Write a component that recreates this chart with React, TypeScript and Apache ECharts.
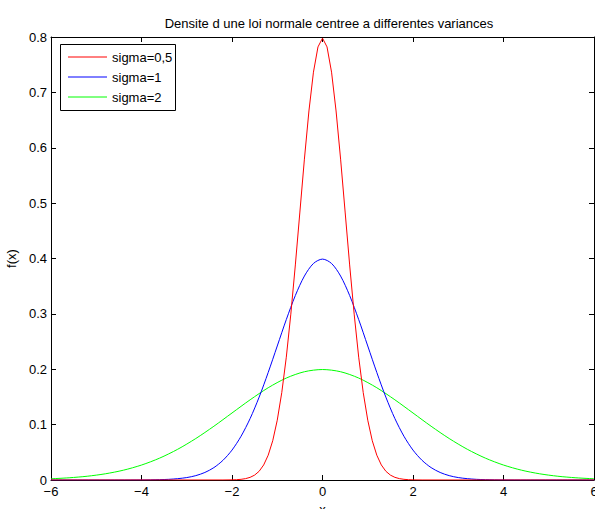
import React, { useEffect, useRef } from "react";
import * as echarts from "echarts";

const titleText = "Densite d une loi normale centree a differentes variances";
const seriesNames = ["sigma=0,5", "sigma=1", "sigma=2"];
const colors = ["#ff0000", "#0000ff", "#00ff00"];

// sigma = 0.5
const xRed = [-6, -2.2, -2.0, -1.9, -1.8, -1.7, -1.6, -1.5, -1.4, -1.3, -1.2, -1.1, -1.0, -0.9, -0.8, -0.7, -0.6, -0.5, -0.4, -0.3, -0.2, -0.1, 0, 0.1, 0.2, 0.3, 0.4, 0.5, 0.6, 0.7, 0.8, 0.9, 1.0, 1.1, 1.2, 1.3, 1.4, 1.5, 1.6, 1.7, 1.8, 1.9, 2.0, 2.2, 6];
const yRed = [0, 0.00005, 0.00027, 0.00058, 0.00122, 0.00246, 0.00477, 0.00886, 0.0158, 0.0272, 0.0448, 0.0709, 0.108, 0.1579, 0.2218, 0.2995, 0.3884, 0.4839, 0.5794, 0.6664, 0.7365, 0.7821, 0.7979, 0.7821, 0.7365, 0.6664, 0.5794, 0.4839, 0.3884, 0.2995, 0.2218, 0.1579, 0.108, 0.0709, 0.0448, 0.0272, 0.0158, 0.00886, 0.00477, 0.00246, 0.00122, 0.00058, 0.00027, 0.00005, 0];

// sigma = 1
const xBlue = [-6, -4.5, -4.0, -3.8, -3.6, -3.4, -3.2, -3.0, -2.8, -2.6, -2.4, -2.2, -2.0, -1.8, -1.6, -1.4, -1.2, -1.0, -0.8, -0.6, -0.4, -0.2, 0, 0.2, 0.4, 0.6, 0.8, 1.0, 1.2, 1.4, 1.6, 1.8, 2.0, 2.2, 2.4, 2.6, 2.8, 3.0, 3.2, 3.4, 3.6, 3.8, 4.0, 4.5, 6];
const yBlue = [0, 0.00002, 0.0001, 0.0003, 0.0006, 0.0012, 0.0024, 0.0044, 0.0079, 0.0136, 0.0224, 0.0355, 0.054, 0.079, 0.1109, 0.1497, 0.1942, 0.242, 0.2897, 0.3332, 0.3683, 0.391, 0.3989, 0.391, 0.3683, 0.3332, 0.2897, 0.242, 0.1942, 0.1497, 0.1109, 0.079, 0.054, 0.0355, 0.0224, 0.0136, 0.0079, 0.0044, 0.0024, 0.0012, 0.0006, 0.0003, 0.0001, 0.00002, 0];

// sigma = 2
const xGreen = [-6, -5.6, -5.2, -4.8, -4.4, -4.0, -3.6, -3.2, -2.8, -2.4, -2.0, -1.6, -1.2, -0.8, -0.4, 0, 0.4, 0.8, 1.2, 1.6, 2.0, 2.4, 2.8, 3.2, 3.6, 4.0, 4.4, 4.8, 5.2, 5.6, 6];
const yGreen = [0.0022, 0.004, 0.0068, 0.0112, 0.0177, 0.027, 0.0395, 0.0555, 0.0749, 0.0971, 0.121, 0.1448, 0.1666, 0.1841, 0.1955, 0.1995, 0.1955, 0.1841, 0.1666, 0.1448, 0.121, 0.0971, 0.0749, 0.0555, 0.0395, 0.027, 0.0177, 0.0112, 0.0068, 0.004, 0.0022];

const xTicks = { min: -6, max: 6, interval: 2 };
const yTicks = { min: 0, max: 0.8, interval: 0.1 };

const zip = (xs: number[], ys: number[]) => xs.map((x, i) => [x, ys[i]]);

const FONT = "'Liberation Sans', Arial, Helvetica, sans-serif";
const FS = 13;

export default function App() {
  const ref = useRef<HTMLDivElement>(null);
  useEffect(() => {
    document.body.style.margin = "0";
    const chart = echarts.init(ref.current!, null, { renderer: "svg" });
    const axisLine = { show: true, onZero: false, lineStyle: { color: "#000", width: 1 } };
    const tick = { show: true, inside: true, length: 5, lineStyle: { color: "#000" } };
    const fmtX = (v: number) => String(v).replace("-", "\u2212");
    const fmtY = (v: number) => (v === 0 ? "0" : v.toFixed(1));
    const data = [zip(xRed, yRed), zip(xBlue, yBlue), zip(xGreen, yGreen)];

    // legend drawn as graphic elements (box, sample lines, labels)
    const legendElems: any[] = [
      {
        type: "rect",
        shape: { x: 60.5, y: 44.5, width: 115, height: 66 },
        style: { fill: "#fff", stroke: "#000", lineWidth: 1 },
        z: 10,
      },
    ];
    seriesNames.forEach((n, i) => {
      const y = 57 + i * 20;
      legendElems.push({
        type: "line",
        shape: { x1: 68, y1: y, x2: 107, y2: y },
        style: { stroke: colors[i], lineWidth: 1 },
        z: 11,
      });
      legendElems.push({
        type: "text",
        x: 112,
        y: y,
        style: {
          text: n,
          fill: "#000",
          fontSize: FS,
          fontFamily: FONT,
          verticalAlign: "middle",
          align: "left",
        },
        z: 11,
      });
    });

    chart.setOption({
      animation: false,
      backgroundColor: "#fff",
      textStyle: { fontFamily: FONT },
      title: {
        text: titleText,
        left: 324,
        top: 12,
        textAlign: "center",
        textStyle: { fontSize: FS, fontWeight: "normal", color: "#000", fontFamily: FONT },
      },
      graphic: legendElems,
      grid: { left: 51, right: 1, top: 37, bottom: 29, containLabel: false, outerBoundsMode: "none" },
      xAxis: [
        {
          type: "value",
          position: "bottom",
          ...xTicks,
          axisLine,
          axisTick: tick,
          splitLine: { show: false },
          axisLabel: { color: "#000", fontSize: FS, margin: 5, formatter: fmtX, fontFamily: FONT },
          name: "x",
          nameLocation: "middle",
          nameGap: 23,
          nameTextStyle: { color: "#000", fontSize: FS, fontFamily: FONT },
        },
        {
          type: "value",
          position: "top",
          ...xTicks,
          axisLine,
          axisTick: tick,
          splitLine: { show: false },
          axisLabel: { show: false },
        },
      ],
      yAxis: [
        {
          type: "value",
          position: "left",
          ...yTicks,
          axisLine,
          axisTick: tick,
          splitLine: { show: false },
          axisLabel: { color: "#000", fontSize: FS, margin: 4, formatter: fmtY, fontFamily: FONT },
          name: "f(x)",
          nameLocation: "middle",
          nameGap: 30,
          nameRotate: 90,
          nameTextStyle: { color: "#000", fontSize: FS, fontFamily: FONT },
        },
        {
          type: "value",
          position: "right",
          ...yTicks,
          axisLine,
          axisTick: tick,
          splitLine: { show: false },
          axisLabel: { show: false },
        },
      ],
      series: seriesNames.map((name, i) => ({
        name,
        type: "line",
        xAxisIndex: 0,
        yAxisIndex: 0,
        data: data[i],
        showSymbol: false,
        symbol: "none",
        smooth: i === 0 ? false : 0.3,
        color: colors[i],
        lineStyle: { color: colors[i], width: 1 },
        itemStyle: { color: colors[i] },
        z: 3 - i,
      })),
    });
    return () => chart.dispose();
  }, []);
  return <div ref={ref} style={{ width: 595, height: 509 }} />;
}
